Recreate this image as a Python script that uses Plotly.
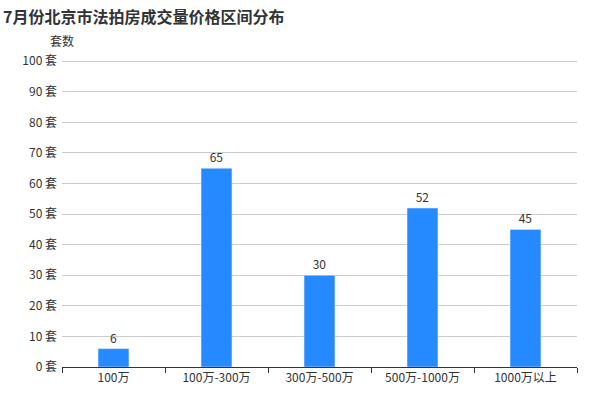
import plotly.graph_objects as go

categories = ["100万", "100万-300万", "300万-500万", "500万-1000万", "1000万以上"]
counts = [6, 65, 30, 52, 45]
y_ticks = list(range(0, 101, 10))
y_labels = [f"{v} 套" for v in y_ticks]

fig = go.Figure()
fig.add_trace(go.Bar(
    x=categories, y=counts, width=0.3,
    marker=dict(color="#258aff"),
    text=counts, textposition="outside",
    textfont=dict(size=12, color="#333"),
    cliponaxis=False,
))
fig.update_layout(
    width=600, height=400,
    margin=dict(l=62, r=23, t=60, b=33, autoexpand=False),
    plot_bgcolor="white", paper_bgcolor="white",
    font=dict(family="Noto Sans CJK SC", size=12, color="#333"),
    title=dict(text="<b>7月份北京市法拍房成交量价格区间分布</b>", x=0.005, y=0.97,
               xanchor="left", yanchor="top", font=dict(size=16, color="#333")),
    showlegend=False,
)
fig.update_yaxes(range=[0, 100.4], tickvals=y_ticks, ticktext=y_labels,
                 showgrid=True, gridcolor="#cccccc", zeroline=False, automargin=False,
                 showline=False, ticks="", ticklabelstandoff=4,
                 tickfont=dict(size=12, color="#333"))
fig.update_xaxes(showline=True, linecolor="#333", ticks="outside", tickson="boundaries",
                 ticklen=5, tickcolor="#333", automargin=False,
                 tickfont=dict(size=12, color="#333"))
fig.add_annotation(text="套数", xref="paper", yref="paper", x=0, y=1.03,
                   xanchor="center", yanchor="bottom", showarrow=False,
                   font=dict(size=12, color="#333"))
fig.write_html("out.html", config={"displayModeBar": False},
               post_script="document.body.style.margin='0';")
